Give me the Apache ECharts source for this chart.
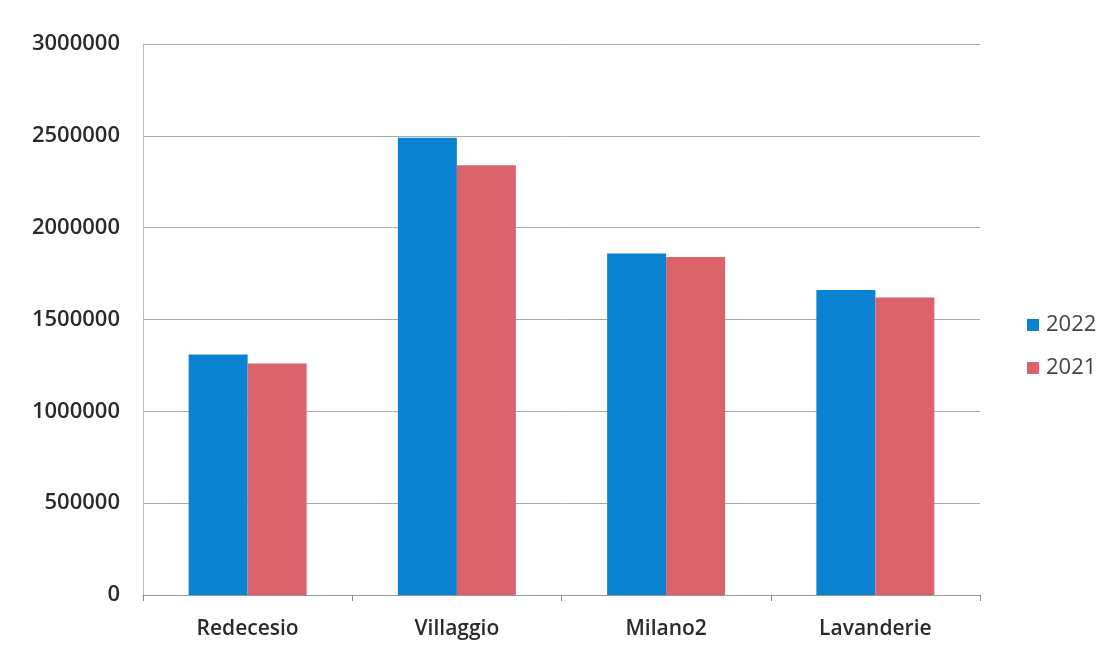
<!DOCTYPE html>
<html><head><meta charset="utf-8">
<script src="https://cdn.jsdelivr.net/npm/echarts@6/dist/echarts.min.js"></script>
<style>html,body{margin:0;padding:0;background:#fff}#c{width:1110px;height:657px}</style>
</head><body><div id="c"></div>
<script>
const categories = ['Redecesio', 'Villaggio', 'Milano2', 'Lavanderie'];
const values2022 = [1310000, 2490000, 1860000, 1660000];
const values2021 = [1260000, 2340000, 1840000, 1620000];
const seriesNames = ['2022', '2021'];

const chart = echarts.init(document.getElementById('c'));
chart.setOption({
  animation: false,
  backgroundColor: '#fff',
  grid: { left: 143, right: 130, top: 44, bottom: 62 },
  legend: {
    orient: 'vertical', left: 1022, top: 309, itemWidth: 12, itemHeight: 12, itemGap: 21,
    icon: 'rect',
    textStyle: { fontFamily: 'Open Sans', fontSize: 22, color: '#444', padding: [0, 0, 0, 2] },
    data: seriesNames
  },
  xAxis: {
    type: 'category', data: categories,
    axisLine: { lineStyle: { color: '#999', width: 1 } },
    axisTick: { show: true, length: 6, lineStyle: { color: '#888' } },
    axisLabel: { fontFamily: 'Open Sans', fontSize: 21, fontWeight: 600, color: '#2a2a2a', margin: 24 }
  },
  yAxis: {
    type: 'value', min: 0, max: 3000000, interval: 500000,
    axisLine: { show: true, lineStyle: { color: '#bbb' } },
    axisTick: { show: false },
    splitLine: { lineStyle: { color: '#aaa', width: 1 } },
    axisLabel: { fontFamily: 'Open Sans', fontSize: 22, fontWeight: 600, color: '#2a2a2a', margin: 23,
      formatter: function (v) { return String(v); } }
  },
  series: [
    { name: seriesNames[0], type: 'bar', data: values2022, barWidth: 59, barGap: '0%', itemStyle: { color: '#0a82d2' } },
    { name: seriesNames[1], type: 'bar', data: values2021, barWidth: 59, barGap: '0%', itemStyle: { color: '#da626b' } }
  ]
});
</script></body></html>
